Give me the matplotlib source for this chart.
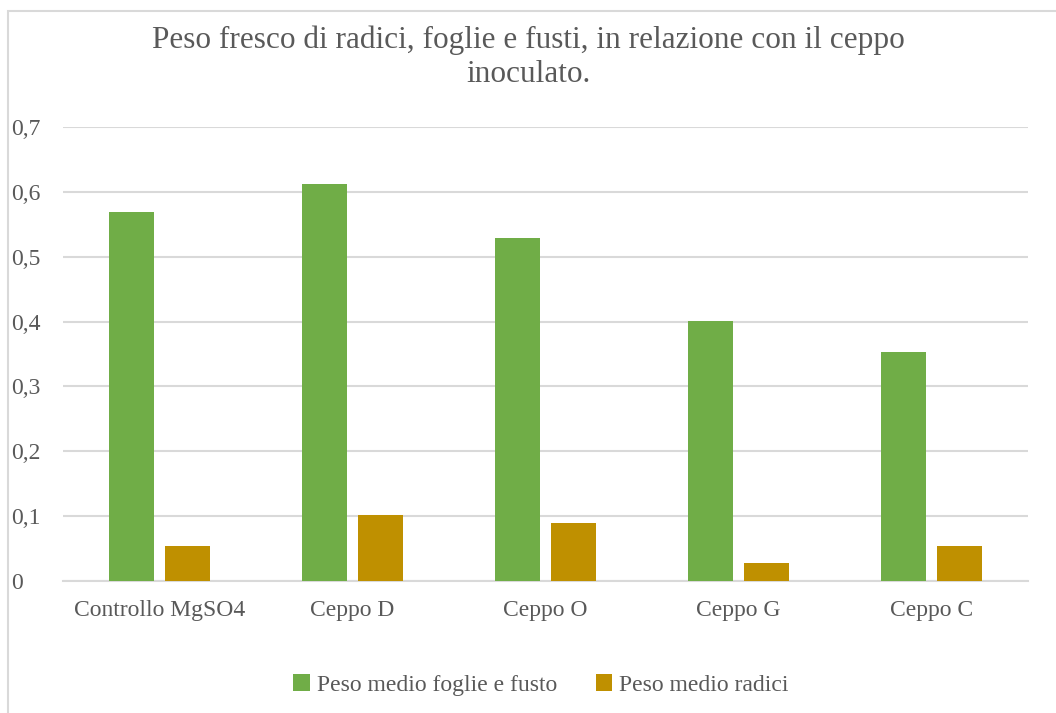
import numpy as np
import matplotlib.pyplot as plt
from matplotlib.patches import Rectangle
from matplotlib.ticker import FuncFormatter

# dati
categorie = ["Controllo MgSO4", "Ceppo D", "Ceppo O", "Ceppo G", "Ceppo C"]
foglie_fusto = [0.569, 0.612, 0.529, 0.401, 0.353]
radici = [0.054, 0.102, 0.089, 0.028, 0.054]
etichette = ["Peso medio foglie e fusto", "Peso medio radici"]

plt.rcParams['font.family'] = ['Liberation Serif', 'DejaVu Serif']
grigio = "#595959"

fig = plt.figure(figsize=(10.56, 7.13), dpi=100)
ax = fig.add_axes([63/1056, 1 - 581/713, (1028 - 63)/1056, (581 - 127)/713])

x = np.arange(len(categorie))
w = 0.233
off = 0.145
b1 = ax.bar(x - off, foglie_fusto, w, color="#70AD47", label=etichette[0], zorder=3)
b2 = ax.bar(x + off, radici, w, color="#BF9000", label=etichette[1], zorder=3)

ax.set_xlim(-0.5, len(categorie) - 0.5)
ax.set_ylim(0, 0.7)
ax.set_yticks(np.arange(0, 0.71, 0.1))
ax.yaxis.set_major_formatter(FuncFormatter(lambda v, p: "0" if abs(v) < 1e-9 else f"{v:.1f}".replace(".", ",")))
ax.grid(axis="y", color="#D9D9D9", linewidth=1.5, zorder=0)
for s in ["top", "right", "left"]:
    ax.spines[s].set_visible(False)
ax.spines["bottom"].set_color("#D9D9D9")
ax.spines["bottom"].set_linewidth(1.5)
ax.tick_params(axis="both", length=0, labelsize=17, labelcolor=grigio)
ax.tick_params(axis="x", pad=14)
ax.set_xticks(x)
ax.set_xticklabels(categorie)
for lab in ax.get_yticklabels():
    lab.set_horizontalalignment("left")
ax.yaxis.set_tick_params(pad=37)

fig.text(0.5, 1 - 40/713, "Peso fresco di radici, foglie e fusti, in relazione con il ceppo",
         ha="center", va="center", fontsize=22.5, color=grigio)
fig.text(0.5, 1 - 75/713, "inoculato.", ha="center", va="center", fontsize=22.5, color=grigio)

fig.legend(handles=[b1, b2], labels=etichette, loc="center", bbox_to_anchor=(541/1056, 1 - 685/713),
           ncol=2, frameon=False, fontsize=17, labelcolor=grigio, handlelength=0.7,
           handleheight=0.7, handletextpad=0.3, columnspacing=1.65)

# bordo del grafico
fig.patches.append(Rectangle((8/1056, -0.05), 1.1, 1 - 11/713 + 0.05, transform=fig.transFigure,
                             fill=False, edgecolor="#D9D9D9", linewidth=1.5))

fig.savefig("out.png", dpi=100)
